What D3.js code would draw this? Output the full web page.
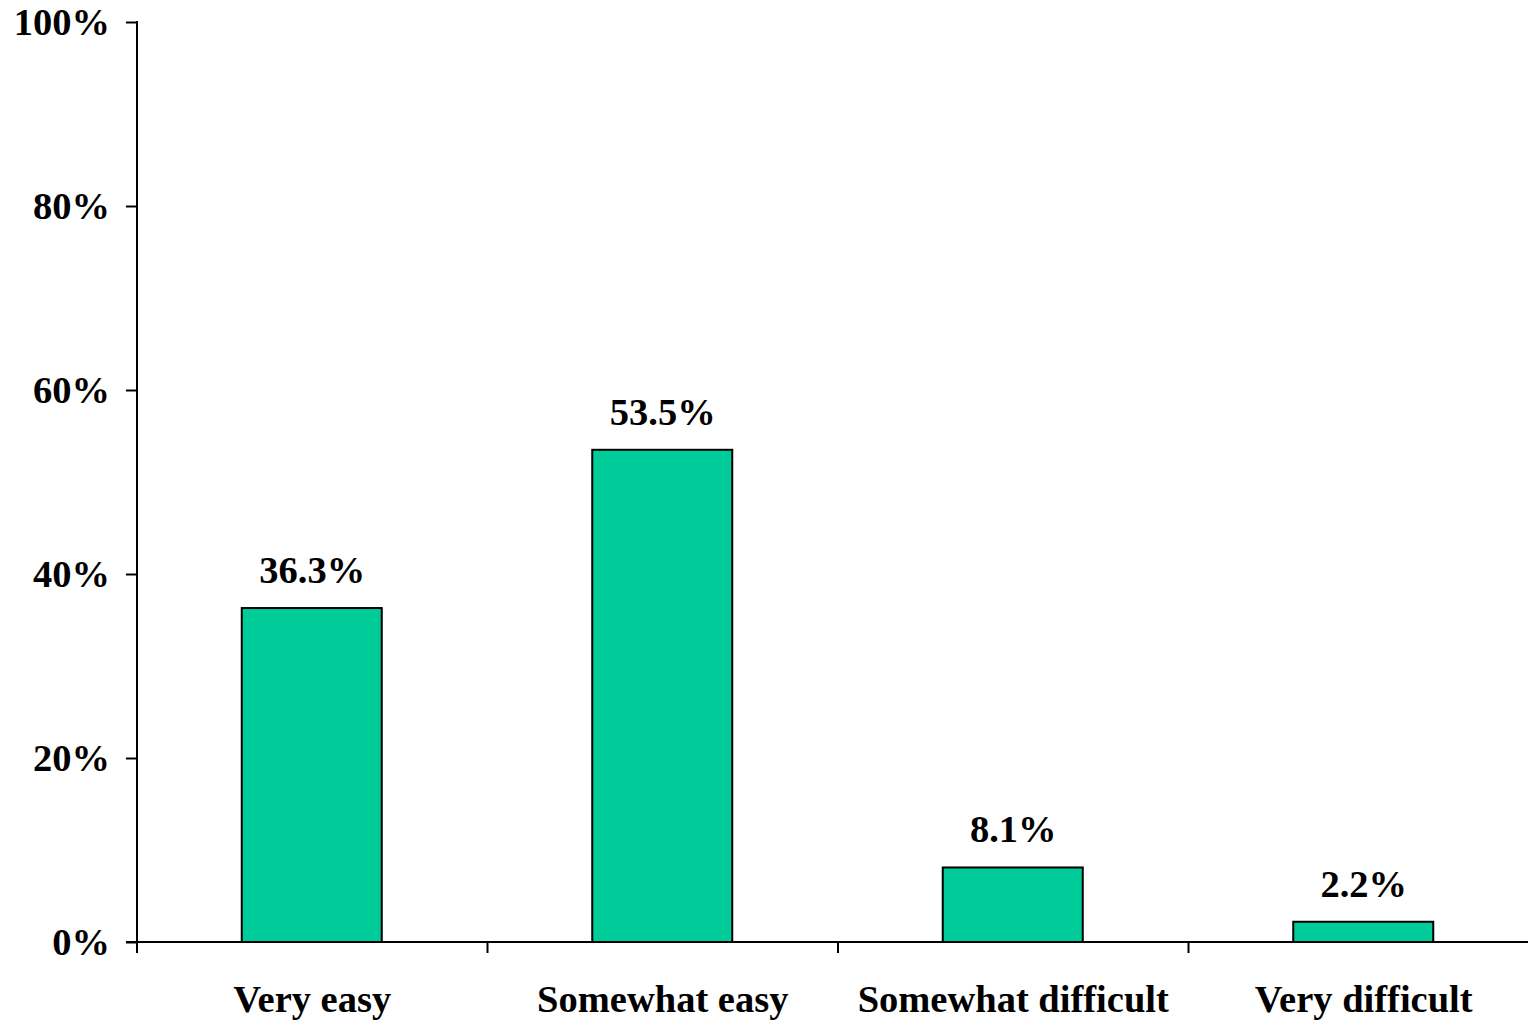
<!DOCTYPE html>
<html><head><meta charset="utf-8">
<script src="https://cdn.jsdelivr.net/npm/d3@7"></script>
<style>html,body{margin:0;padding:0;background:#fff;overflow:hidden}
text{font-family:"Liberation Serif","Times New Roman",serif;font-weight:bold;font-size:38.5px;fill:#000}</style>
</head><body><svg id="c" width="1528" height="1023"></svg>
<script>
const categories = ["Very easy", "Somewhat easy", "Somewhat difficult", "Very difficult"];
const values = [36.3, 53.5, 8.1, 2.2];
const yTicks = [0, 20, 40, 60, 80, 100];

const svg = d3.select("#c");
const x0 = 137, x1 = 1539, yBase = 942, yTop = 22;
const xb = d3.scaleBand().domain(categories).range([x0, x1]).padding(0);
const y = d3.scaleLinear().domain([0, 100]).range([yBase, yTop]);

// bars
svg.append("g").selectAll("rect").data(values).join("rect")
  .attr("x", (d, i) => xb(categories[i]) + xb.bandwidth() / 2 - 70.5)
  .attr("width", 140)
  .attr("y", d => y(d))
  .attr("height", d => yBase - y(d))
  .attr("fill", "#00CC99").attr("stroke", "#000").attr("stroke-width", 2);

// value labels
svg.append("g").selectAll("text").data(values).join("text")
  .attr("x", (d, i) => xb(categories[i]) + xb.bandwidth() / 2)
  .attr("y", d => y(d) - 25)
  .attr("text-anchor", "middle")
  .text(d => d.toFixed(1) + "%");

// y axis
const ya = d3.axisLeft(y).tickValues(yTicks).tickFormat(d => d + "%").tickSize(11).tickPadding(16);
const gy = svg.append("g").attr("transform", `translate(${x0},0)`).call(ya);
gy.select(".domain").remove();
gy.selectAll(".tick line").attr("stroke", "#000").attr("stroke-width", 2);
gy.selectAll(".tick text").attr("font-size", 38.5).attr("font-family", "Liberation Serif").attr("font-weight", "bold").attr("dy", "0.33em").attr("fill", "#000");
svg.append("line").attr("x1", x0).attr("x2", x0).attr("y1", yTop - 1).attr("y2", yBase + 11)
  .attr("stroke", "#000").attr("stroke-width", 2);

// x axis
svg.append("line").attr("x1", x0 - 11).attr("x2", x1).attr("y1", yBase).attr("y2", yBase)
  .attr("stroke", "#000").attr("stroke-width", 2);
const bounds = categories.map(c => xb(c)).slice(1);
svg.append("g").selectAll("line").data(bounds).join("line")
  .attr("x1", d => d).attr("x2", d => d).attr("y1", yBase).attr("y2", yBase + 11)
  .attr("stroke", "#000").attr("stroke-width", 2);
svg.append("g").selectAll("text").data(categories).join("text")
  .attr("x", d => xb(d) + xb.bandwidth() / 2)
  .attr("y", 1012)
  .attr("text-anchor", "middle")
  .text(d => d);
</script></body></html>
